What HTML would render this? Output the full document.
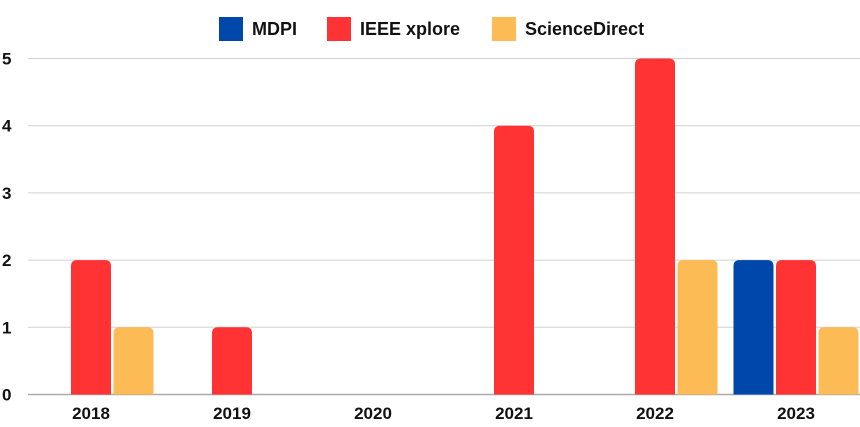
<!DOCTYPE html>
<html><head><meta charset="utf-8"><style>
body{margin:0;background:#fff;width:860px;height:422px;overflow:hidden;font-family:"Liberation Sans",sans-serif}
svg text{font-family:"Liberation Sans",sans-serif;font-weight:bold;fill:#111}
</style></head><body>
<svg id="chart" width="860" height="422">
<g id="legend">
<g><rect x="219" y="17" width="24" height="24" fill="#0047AB"/><text x="252" y="35" font-size="18">MDPI</text></g>
<g><rect x="327" y="17" width="24" height="24" fill="#FF3333"/><text x="360" y="35" font-size="18">IEEE xplore</text></g>
<g><rect x="492" y="17" width="24" height="24" fill="#FDBB55"/><text x="525" y="35" font-size="18">ScienceDirect</text></g>
</g>
<g id="grid"></g><g id="bars"></g><g id="xl"></g>
</svg>
<script>
const categories=["2018","2019","2020","2021","2022","2023"];
const mdpi=[0,0,0,0,0,2];
const ieee=[2,1,0,4,5,2];
const sciencedirect=[1,0,0,0,2,1];
const yTicks=[0,1,2,3,4,5];
const NS="http://www.w3.org/2000/svg";
const y0=394.5,yTop=58.5,yMax=5;
const yScale=v=>y0-(y0-yTop)*v/yMax;
const xCenter=i=>91+i*141;
const grid=document.getElementById('grid'),bars=document.getElementById('bars'),xl=document.getElementById('xl');
yTicks.forEach(t=>{
 const l=document.createElementNS(NS,'line');
 
 
 l.setAttribute('x1',28);l.setAttribute('x2',860);l.setAttribute('y1',yScale(t));l.setAttribute('y2',yScale(t));
 l.setAttribute('stroke',t===0?'#aaa':'#d0d0d0');l.setAttribute('stroke-width',t===0?1.5:1);
 grid.appendChild(l);
 const tx=document.createElementNS(NS,'text');
 
 
 tx.setAttribute('x',2);tx.setAttribute('y',yScale(t)+6);tx.setAttribute('font-size',17);tx.textContent=t;
 grid.appendChild(tx);
});
const series=[[mdpi,'#0047AB','mdpi',-42.5],[ieee,'#FF3333','ieee',0],[sciencedirect,'#FDBB55','sciencedirect',42.5]];
categories.forEach((c,i)=>{
 series.forEach(([arr,col,nm,off])=>{
  const v=arr[i]; if(!v) return;
  const x=xCenter(i)+off-20,w=40,yt=yScale(v),h=y0-yt,r=6;
  const p=document.createElementNS(NS,'path');
  
  
  p.setAttribute('d',`M${x},${y0}V${yt+r}Q${x},${yt} ${x+r},${yt}H${x+w-r}Q${x+w},${yt} ${x+w},${yt+r}V${y0}Z`);
  p.setAttribute('fill',col);
  bars.appendChild(p);
 });
 const t=document.createElementNS(NS,'text');
 
 
 t.setAttribute('x',xCenter(i));t.setAttribute('y',419);t.setAttribute('text-anchor','middle');t.setAttribute('font-size',17);t.textContent=c;
 xl.appendChild(t);
});
</script>
</body></html>
